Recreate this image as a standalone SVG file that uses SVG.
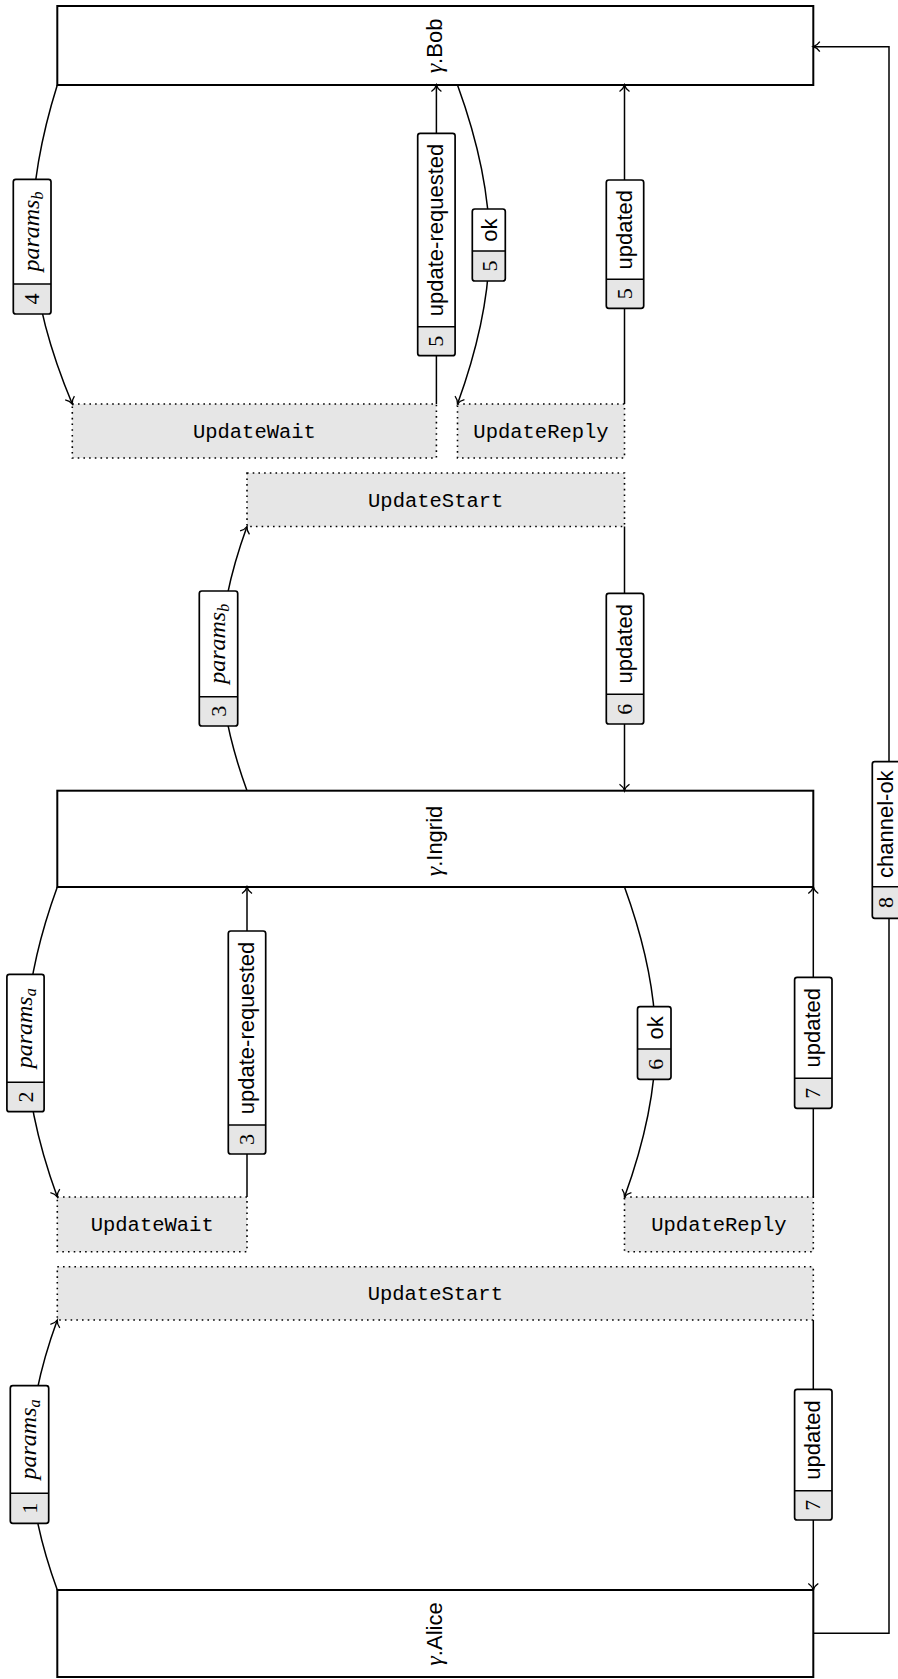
<svg xmlns="http://www.w3.org/2000/svg" width="898" height="1679" viewBox="0 0 898 1679">
<defs>
<style>
.node rect{fill:#fff;stroke:#000;stroke-width:2}
.state rect{fill:#e6e6e6;stroke:#000;stroke-width:1.6;stroke-dasharray:1.6 4.1}
.tt{font-family:"Liberation Mono","DejaVu Sans Mono",monospace;font-size:20.5px}
.sf{font-family:"Liberation Sans",Arial,sans-serif;font-size:22px}
.rm{font-family:"Liberation Serif","Times New Roman",serif;font-size:22px}
.it{font-family:"Liberation Serif","Times New Roman",serif;font-style:italic;font-size:24px}
.edge{fill:none;stroke:#000;stroke-width:1.5;marker-end:url(#arr)}
.lbl .bg{fill:#fff;stroke:none}
.lbl .num{fill:#e6e6e6;stroke:none}
.lbl .ol{fill:none;stroke:#000;stroke-width:1.7}
.lbl line{stroke:#000;stroke-width:1.5}
</style>
<marker id="arr" viewBox="-8 -7 10 14" markerWidth="10" markerHeight="14" refX="0" refY="0" orient="auto" markerUnits="userSpaceOnUse">
<path d="M-6.5,-5 C-4.5,-2 -1.5,-0.4 0,0 C-1.5,0.4 -4.5,2 -6.5,5" fill="none" stroke="#000" stroke-width="1.3"/>
</marker>
</defs>
<rect width="898" height="1679" fill="#fff"/>

<!-- nodes -->
<g id="bob" class="node">
<rect x="57.3" y="6" width="756" height="79"/>
<text transform="translate(442,46) rotate(-90)" text-anchor="middle"><tspan class="it">γ</tspan><tspan class="sf">.Bob</tspan></text>
</g>
<g id="ingrid" class="node">
<rect x="57.3" y="790.7" width="756" height="96.3"/>
<text transform="translate(442,841) rotate(-90)" text-anchor="middle"><tspan class="it">γ</tspan><tspan class="sf">.Ingrid</tspan></text>
</g>
<g id="alice" class="node">
<rect x="57.3" y="1590" width="756" height="87"/>
<text transform="translate(442,1634) rotate(-90)" text-anchor="middle"><tspan class="it">γ</tspan><tspan class="sf">.Alice</tspan></text>
</g>
<g id="bob-updatewait" class="state">
<rect x="72.3" y="404" width="364.1" height="54"/>
<text class="tt" x="254.4" y="438" text-anchor="middle">UpdateWait</text>
</g>
<g id="bob-updatereply" class="state">
<rect x="457.5" y="404" width="167" height="54"/>
<text class="tt" x="541" y="438" text-anchor="middle">UpdateReply</text>
</g>
<g id="ingrid-updatestart" class="state">
<rect x="247" y="473" width="377.5" height="53.5"/>
<text class="tt" x="435.7" y="506.5" text-anchor="middle">UpdateStart</text>
</g>
<g id="ingrid-updatewait" class="state">
<rect x="57.3" y="1197" width="189.7" height="54.7"/>
<text class="tt" x="152.2" y="1231.3" text-anchor="middle">UpdateWait</text>
</g>
<g id="ingrid-updatereply" class="state">
<rect x="624.5" y="1197" width="188.8" height="54.7"/>
<text class="tt" x="718.9" y="1231.3" text-anchor="middle">UpdateReply</text>
</g>
<g id="alice-updatestart" class="state">
<rect x="57.3" y="1266.7" width="756" height="53.3"/>
<text class="tt" x="435.3" y="1300.3" text-anchor="middle">UpdateStart</text>
</g>

<!-- connectors -->
<g id="connectors">
<path class="edge" d="M57.3,85 C20,204.4 23.9,288.6 72.3,404"/>
<path class="edge" d="M436.4,404 V85"/>
<path class="edge" d="M457.5,85 C500.2,202.4 500.2,286.6 457.5,404"/>
<path class="edge" d="M624.5,404 V85"/>
<path class="edge" d="M247,790.7 C211.6,693.5 211.6,623.7 247,526.5"/>
<path class="edge" d="M624.5,526.5 V790.7"/>
<path class="edge" d="M57.3,887 C15.8,1001.1 15.8,1082.9 57.3,1197"/>
<path class="edge" d="M247,1197 V887"/>
<path class="edge" d="M624.5,887 C666,1001.1 666,1082.9 624.5,1197"/>
<path class="edge" d="M813.3,1197 V887"/>
<path class="edge" d="M57.3,1590 C21.1,1490.7 21.1,1419.3 57.3,1320"/>
<path class="edge" d="M813.3,1320 V1590"/>
<path class="edge" d="M813.3,1633.3 H889 V46.7 H813.3"/>

<!-- edge labels -->
<g class="lbl" id="lbl-params-b-4">
<rect class="bg" x="13.3" y="179.3" width="37.7" height="134.7" rx="2.5"/>
<rect class="num" x="13.3" y="284" width="37.7" height="30"/>
<line x1="13.3" y1="284" x2="51" y2="284"/>
<rect class="ol" x="13.3" y="179.3" width="37.7" height="134.7" rx="2.5"/>
<text class="it" transform="translate(38.5,231.6) rotate(-90)" text-anchor="middle">params<tspan font-size="16" dy="4">b</tspan></text>
<text class="rm" transform="translate(39,299) rotate(-90)" text-anchor="middle">4</text>
</g>
<g class="lbl" id="lbl-update-requested-5">
<rect class="bg" x="417.7" y="133.3" width="37.4" height="222.4" rx="2.5"/>
<rect class="num" x="417.7" y="326.7" width="37.4" height="29"/>
<line x1="417.7" y1="326.7" x2="455.1" y2="326.7"/>
<rect class="ol" x="417.7" y="133.3" width="37.4" height="222.4" rx="2.5"/>
<text class="sf" transform="translate(443,230) rotate(-90)" text-anchor="middle">update-requested</text>
<text class="rm" transform="translate(443,341.2) rotate(-90)" text-anchor="middle">5</text>
</g>
<g class="lbl" id="lbl-ok-5">
<rect class="bg" x="472.3" y="209" width="33" height="72" rx="2.5"/>
<rect class="num" x="472.3" y="251" width="33" height="30"/>
<line x1="472.3" y1="251" x2="505.3" y2="251"/>
<rect class="ol" x="472.3" y="209" width="33" height="72" rx="2.5"/>
<text class="sf" transform="translate(497,230) rotate(-90)" text-anchor="middle">ok</text>
<text class="rm" transform="translate(497,266) rotate(-90)" text-anchor="middle">5</text>
</g>
<g class="lbl" id="lbl-updated-5">
<rect class="bg" x="606.3" y="180" width="37.4" height="128.3" rx="2.5"/>
<rect class="num" x="606.3" y="279.3" width="37.4" height="29"/>
<line x1="606.3" y1="279.3" x2="643.7" y2="279.3"/>
<rect class="ol" x="606.3" y="180" width="37.4" height="128.3" rx="2.5"/>
<text class="sf" transform="translate(631.5,229.7) rotate(-90)" text-anchor="middle">updated</text>
<text class="rm" transform="translate(632,293.8) rotate(-90)" text-anchor="middle">5</text>
</g>
<g class="lbl" id="lbl-params-b-3">
<rect class="bg" x="199.3" y="591" width="38.4" height="135" rx="2.5"/>
<rect class="num" x="199.3" y="696.7" width="38.4" height="29.3"/>
<line x1="199.3" y1="696.7" x2="237.7" y2="696.7"/>
<rect class="ol" x="199.3" y="591" width="38.4" height="135" rx="2.5"/>
<text class="it" transform="translate(225,643.8) rotate(-90)" text-anchor="middle">params<tspan font-size="16" dy="4">b</tspan></text>
<text class="rm" transform="translate(225.5,711.3) rotate(-90)" text-anchor="middle">3</text>
</g>
<g class="lbl" id="lbl-updated-6">
<rect class="bg" x="606.3" y="593.3" width="37.4" height="130.7" rx="2.5"/>
<rect class="num" x="606.3" y="694.3" width="37.4" height="29.7"/>
<line x1="606.3" y1="694.3" x2="643.7" y2="694.3"/>
<rect class="ol" x="606.3" y="593.3" width="37.4" height="130.7" rx="2.5"/>
<text class="sf" transform="translate(631.5,643.8) rotate(-90)" text-anchor="middle">updated</text>
<text class="rm" transform="translate(632,709.2) rotate(-90)" text-anchor="middle">6</text>
</g>
<g class="lbl" id="lbl-channel-ok-8">
<rect class="bg" x="872.3" y="761.7" width="33" height="156.6" rx="2.5"/>
<rect class="num" x="872.3" y="886.7" width="33" height="31.6"/>
<line x1="872.3" y1="886.7" x2="905.3" y2="886.7"/>
<rect class="ol" x="872.3" y="761.7" width="33" height="156.6" rx="2.5"/>
<text class="sf" transform="translate(893,824.2) rotate(-90)" text-anchor="middle">channel-ok</text>
<text class="rm" transform="translate(893,902.5) rotate(-90)" text-anchor="middle">8</text>
</g>
<g class="lbl" id="lbl-params-a-2">
<rect class="bg" x="6.9" y="974.3" width="37.2" height="137.4" rx="2.5"/>
<rect class="num" x="6.9" y="1082.3" width="37.2" height="29.4"/>
<line x1="6.9" y1="1082.3" x2="44.1" y2="1082.3"/>
<rect class="ol" x="6.9" y="974.3" width="37.2" height="137.4" rx="2.5"/>
<text class="it" transform="translate(32,1028.3) rotate(-90)" text-anchor="middle">params<tspan font-size="16" dy="4">a</tspan></text>
<text class="rm" transform="translate(32.5,1097) rotate(-90)" text-anchor="middle">2</text>
</g>
<g class="lbl" id="lbl-update-requested-3">
<rect class="bg" x="228.3" y="931" width="37.4" height="223" rx="2.5"/>
<rect class="num" x="228.3" y="1125" width="37.4" height="29"/>
<line x1="228.3" y1="1125" x2="265.7" y2="1125"/>
<rect class="ol" x="228.3" y="931" width="37.4" height="223" rx="2.5"/>
<text class="sf" transform="translate(253.5,1028) rotate(-90)" text-anchor="middle">update-requested</text>
<text class="rm" transform="translate(254,1139.5) rotate(-90)" text-anchor="middle">3</text>
</g>
<g class="lbl" id="lbl-ok-6">
<rect class="bg" x="637.5" y="1006.7" width="33.5" height="72.6" rx="2.5"/>
<rect class="num" x="637.5" y="1049" width="33.5" height="30.3"/>
<line x1="637.5" y1="1049" x2="671" y2="1049"/>
<rect class="ol" x="637.5" y="1006.7" width="33.5" height="72.6" rx="2.5"/>
<text class="sf" transform="translate(662.5,1027.8) rotate(-90)" text-anchor="middle">ok</text>
<text class="rm" transform="translate(662.5,1064.2) rotate(-90)" text-anchor="middle">6</text>
</g>
<g class="lbl" id="lbl-updated-7a">
<rect class="bg" x="794.6" y="977.3" width="37.4" height="131" rx="2.5"/>
<rect class="num" x="794.6" y="1078.3" width="37.4" height="30"/>
<line x1="794.6" y1="1078.3" x2="832" y2="1078.3"/>
<rect class="ol" x="794.6" y="977.3" width="37.4" height="131" rx="2.5"/>
<text class="sf" transform="translate(819.8,1027.8) rotate(-90)" text-anchor="middle">updated</text>
<text class="rm" transform="translate(820.3,1093.3) rotate(-90)" text-anchor="middle">7</text>
</g>
<g class="lbl" id="lbl-params-a-1">
<rect class="bg" x="10.3" y="1385.7" width="38.4" height="137.6" rx="2.5"/>
<rect class="num" x="10.3" y="1493.3" width="38.4" height="30"/>
<line x1="10.3" y1="1493.3" x2="48.7" y2="1493.3"/>
<rect class="ol" x="10.3" y="1385.7" width="38.4" height="137.6" rx="2.5"/>
<text class="it" transform="translate(36,1439.5) rotate(-90)" text-anchor="middle">params<tspan font-size="16" dy="4">a</tspan></text>
<text class="rm" transform="translate(36.5,1508.3) rotate(-90)" text-anchor="middle">1</text>
</g>
<g class="lbl" id="lbl-updated-7b">
<rect class="bg" x="794.6" y="1389.3" width="37.4" height="130.7" rx="2.5"/>
<rect class="num" x="794.6" y="1490.7" width="37.4" height="29.3"/>
<line x1="794.6" y1="1490.7" x2="832" y2="1490.7"/>
<rect class="ol" x="794.6" y="1389.3" width="37.4" height="130.7" rx="2.5"/>
<text class="sf" transform="translate(819.8,1440) rotate(-90)" text-anchor="middle">updated</text>
<text class="rm" transform="translate(820.3,1505.3) rotate(-90)" text-anchor="middle">7</text>
</g>
</g>
</svg>
